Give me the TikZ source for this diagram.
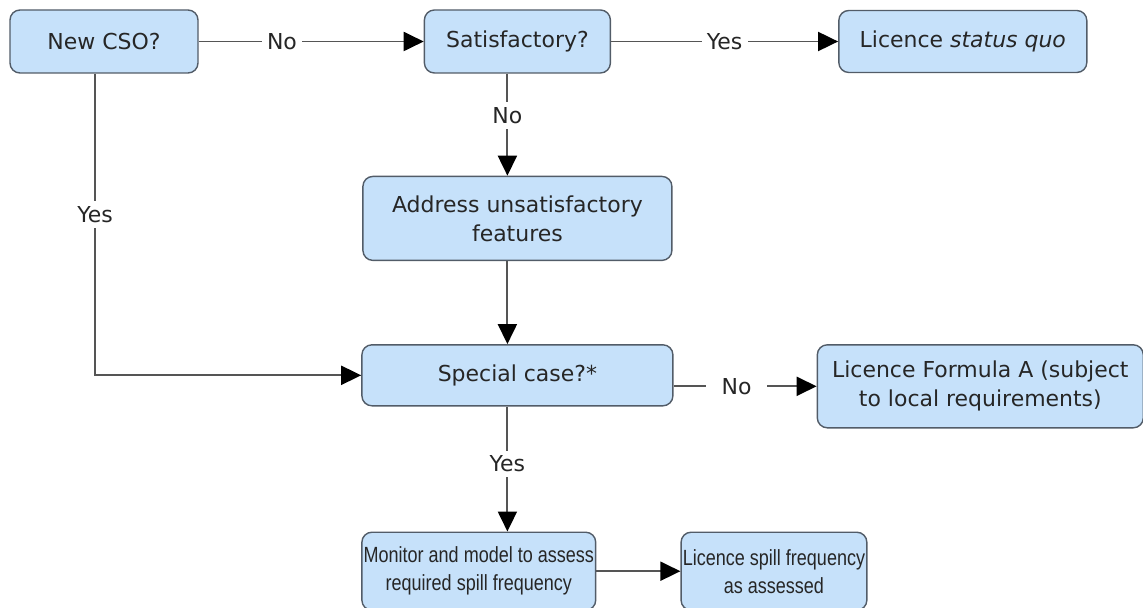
\documentclass[tikz,border=0pt]{standalone}
\usepackage{fontspec}
\setmainfont{DejaVu Sans}
\newfontfamily\narrowfont[FakeStretch=0.82]{Liberation Sans}
\usepackage{xcolor}
\usepackage{tikz}
\usetikzlibrary{arrows.meta, positioning, calc}
\definecolor{boxfill}{RGB}{198,225,250}
\definecolor{boxline}{RGB}{82,92,104}
\definecolor{wire}{RGB}{85,85,85}
\tikzset{
  box/.style  = {rectangle, rounded corners=2mm, draw=boxline, line width=0.8pt,
                 fill=boxfill, align=center, text=black!85, inner sep=1pt,
                 font=\fontsize{12.5}{16.5}\selectfont},
  slim/.style = {box, font=\fontsize{12.5}{16}\selectfont\narrowfont},
  lbl/.style  = {fill=white, inner sep=3pt, text=black!85,
                 font=\fontsize{12.5}{15}\selectfont},
  arr/.style  = {-{Triangle[length=4mm, width=3.8mm, black]}, line width=1.1pt, draw=wire}
}

\begin{document}
\begin{tikzpicture}
  \useasboundingbox (0,0) rectangle (22.86,-12.16);
  \node[box, minimum width=3.76cm, minimum height=1.26cm] (new) at (2.08,-0.83) {New CSO?};
  \node[box, minimum width=3.72cm, minimum height=1.26cm] (sat) [right=4.5cm of new] {Satisfactory?};
  \node[box, minimum width=4.96cm, minimum height=1.24cm] (quo) [right=4.54cm of sat] {Licence \textit{status quo}};
  \node[box, minimum width=6.18cm, minimum height=1.68cm] (addr) [below=2.04cm of sat] {Address unsatisfactory\\features};
  \node[box, minimum width=6.22cm, minimum height=1.22cm] (spec) [below=1.66cm of addr] {Special case?*};
  \node[box, minimum width=6.52cm, minimum height=1.66cm] (form)
    [right=2.86cm of spec.north east, anchor=north west] {Licence Formula A (subject\\to local requirements)};
  \node[slim, minimum width=4.64cm, minimum height=1.56cm] (mon)
    [below=2.5cm of spec.south west, anchor=north west] {Monitor and model to assess\\required spill frequency};
  \node[slim, minimum width=3.70cm, minimum height=1.56cm] (spill) [right=1.68cm of mon] {Licence spill frequency\\as assessed};

  \draw[arr] (new) -- node[lbl, pos=0.37] {No} (sat);
  \draw[arr] (sat) -- node[lbl] {Yes} (quo);
  \draw[arr] ([xshift=-2mm]sat.south) -- node[lbl, pos=0.41] {No} ([xshift=-2mm]addr.north);
  \draw[arr] ([xshift=-2mm]addr.south) -- ([xshift=-2mm]spec.north);
  \draw[arr] ([xshift=-1.8mm]new.south) |- node[lbl, pos=0.233] {Yes} (spec.west);
  \draw[arr] (spec.east |- form.west) -- node[lbl, pos=0.44, inner xsep=9pt] {No} (form.west);
  \draw[arr] ([xshift=-2mm]spec.south) -- node[lbl, pos=0.46] {Yes} ([xshift=-2mm]spec.south |- mon.north);
  \draw[arr] (mon) -- (spill);
\end{tikzpicture}
\end{document}
